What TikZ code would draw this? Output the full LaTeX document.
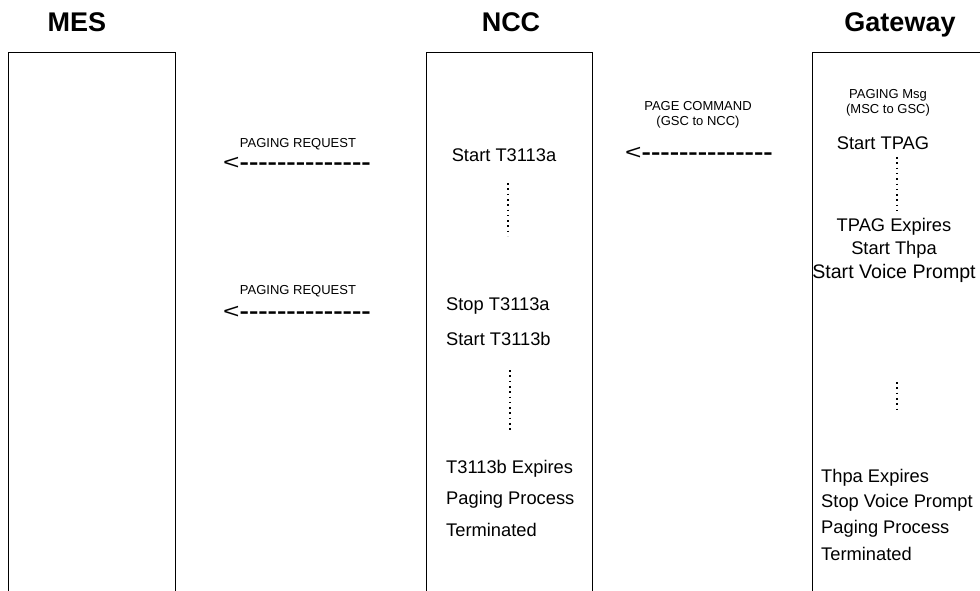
\documentclass[tikz,border=0pt]{standalone}
\usepackage{fontspec}
\setmainfont{Liberation Sans}
\begin{document}
\begin{tikzpicture}[x=1pt,y=-1pt,
  title/.style={font=\fontsize{27}{30}\selectfont\bfseries, inner sep=0pt, anchor=base},
  body/.style={font=\fontsize{18.3}{20}\selectfont, inner sep=0pt},
  small/.style={font=\fontsize{13}{16}\selectfont, inner sep=0pt, align=center},
  arrowtext/.style={font=\fontsize{21}{24}\selectfont\bfseries, inner sep=0pt},
  lifeline/.style={line width=0.9pt},
  wait/.style={line width=1.6pt, dash pattern=on 1.6pt off 3.7pt}]
\useasboundingbox (0,0) rectangle (980,591);
\newcommand{\txtarrow}{\scalebox{1.34}[1]{{\mdseries<}-{}-{}-{}-{}-{}-{}-{}-{}-{}-{}-{}-{}-{}-{}}}
% titles
\node[title] (tmes) at (77,32) {MES};
\node[title] (tncc) at (511,32) {NCC};
\node[title] (tgw) at (900,32) {Gateway};
% boxes (open at the bottom)
\draw[lifeline] (8,592) -- (8,52) -- (175,52) -- (175,592);
\draw[lifeline] (426,592) -- (426,52) -- (592,52) -- (592,592);
\draw[lifeline] (812,592) -- (812,52) -- (982,52);
% NCC texts
\node[body] (n1) at (504,155) {Start T3113a};
\coordinate (n1a) at (508,183);
\coordinate (n1b) at (508,236);
\draw[wait] (n1a) -- (n1b);
\node[body, anchor=west] (n2) at (446,306) {Stop T3113a};
\node[body, anchor=west] (n3) at (446,339) {Start T3113b};
\coordinate (n3a) at (510,370);
\coordinate (n3b) at (510,432);
\draw[wait] (n3a) -- (n3b);
\node[body, anchor=west] (n4) at (446,469) {T3113b Expires};
\node[body, anchor=west] (n5) at (446,500) {Paging Process};
\node[body, anchor=west] (n6) at (446,530) {Terminated};
% Gateway texts
\node[small] (g0) at (888,103) {PAGING Msg\\[-1pt](MSC to GSC)};
\node[body] (g1) at (883,143) {Start TPAG};
\coordinate (g1a) at (897,157);
\coordinate (g1b) at (897,211);
\draw[wait] (g1a) -- (g1b);
\node[body] (g2) at (894,227) {TPAG Expires};
\node[body] (g3) at (894,250) {Start Thpa};
\node[body, font=\fontsize{19.6}{20}\selectfont] (g4) at (894,273) {Start Voice Prompt};
\coordinate (g4a) at (897,382);
\coordinate (g4b) at (897,410);
\draw[wait] (g4a) -- (g4b);
\node[body, anchor=west] (g5) at (821,478) {Thpa Expires};
\node[body, anchor=west] (g6) at (821,503) {Stop Voice Prompt};
\node[body, anchor=west] (g7) at (821,529) {Paging Process};
\node[body, anchor=west] (g8) at (821,554) {Terminated};
% messages
\node[small] (m1) at (698,115) {PAGE COMMAND\\[-1pt](GSC to NCC)};
\node[arrowtext, anchor=west] (a1) at (625,153) {\txtarrow};
\node[small] (m2) at (298,144) {PAGING REQUEST};
\node[arrowtext, anchor=west] (a2) at (223,163) {\txtarrow};
\node[small] (m3) at (298,291) {PAGING REQUEST};
\node[arrowtext, anchor=west] (a3) at (223,312) {\txtarrow};
\end{tikzpicture}
\end{document}
